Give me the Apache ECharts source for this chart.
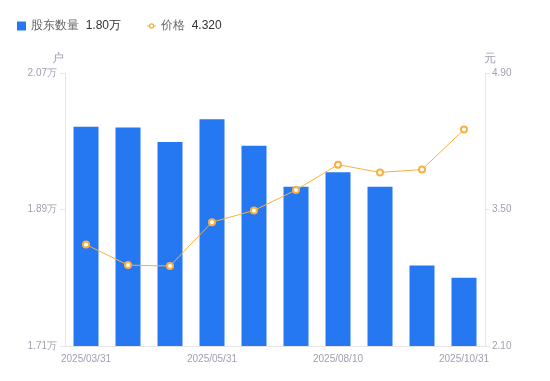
<!DOCTYPE html>
<html><head><meta charset="utf-8">
<script src="https://cdn.jsdelivr.net/npm/echarts@6/dist/echarts.min.js"></script>
<style>html,body{margin:0;padding:0;background:#fff}#c{width:550px;height:381px}</style>
</head><body><div id="c"></div>
<script>
const categories = ['2025/03/31','2025/04/10','2025/04/30','2025/05/31','2025/06/30','2025/07/31','2025/08/10','2025/08/31','2025/09/30','2025/10/31'];
const holders = [1.999, 1.998, 1.979, 2.009, 1.974, 1.920, 1.939, 1.920, 1.816, 1.800];
const prices = [3.14, 2.93, 2.92, 3.37, 3.49, 3.70, 3.96, 3.88, 3.91, 4.32];
const leftTicks = [1.71, 1.89, 2.07];
const rightTicks = [2.10, 3.50, 4.90];
const seriesNames = ['股东数量', '价格'];
const legendValues = ['1.80万', '4.320'];

const labelColor = '#a0a0b0';
const lineColor = '#e6e6e6';
const orange = '#f8b13e';
const ringIcon = 'path://M0,4.4H2.2V5.6H0Z M8.8,4.4H11V5.6H8.8Z M2.2,5A3.3,3.3 0 1,1 8.8,5A3.3,3.3 0 1,1 2.2,5Z M3.8,5A1.7,1.7 0 1,0 7.2,5A1.7,1.7 0 1,0 3.8,5Z';
const chart = echarts.init(document.getElementById('c'));
chart.setOption({
  animation: false,
  legend: {
    left: 12, top: 15,
    itemWidth: 9, itemHeight: 9, itemGap: 26,
    formatter: function (name) {
      const i = seriesNames.indexOf(name);
      return '{n|' + name + '}  {v|' + legendValues[i] + '}';
    },
    textStyle: {
      rich: { n: { color: '#666', fontSize: 12 }, v: { color: '#333', fontSize: 12 } }
    },
    data: [{ name: seriesNames[0], icon: 'rect' },
           { name: seriesNames[1], icon: ringIcon, itemStyle: { color: orange, borderWidth: 0 } }]
  },
  grid: { left: 65, right: 65, top: 73, bottom: 35 },
  xAxis: {
    type: 'category', data: categories,
    axisLine: { lineStyle: { color: lineColor } },
    axisTick: { show: false },
    axisLabel: { color: labelColor, fontSize: 10, interval: 2, margin: 8 }
  },
  yAxis: [{
    type: 'value', min: 1.71, max: 2.07, name: '户',
    nameTextStyle: { color: labelColor, fontSize: 12, padding: [0, 14, 0, 0] },
    nameGap: 8,
    axisLine: { show: true, lineStyle: { color: lineColor } },
    axisTick: { show: true, length: 5, lineStyle: { color: lineColor }, customValues: leftTicks },
    splitLine: { show: false },
    axisLabel: { color: labelColor, fontSize: 10, margin: 8, customValues: leftTicks,
      formatter: v => v.toFixed(2) + '万' }
  }, {
    type: 'value', min: 2.10, max: 4.90, name: '元',
    nameTextStyle: { color: labelColor, fontSize: 12, padding: [0, 0, 0, 10] },
    nameGap: 8,
    axisLine: { show: true, lineStyle: { color: lineColor } },
    axisTick: { show: true, length: 5, lineStyle: { color: lineColor }, customValues: rightTicks },
    splitLine: { show: false },
    axisLabel: { color: labelColor, fontSize: 10, margin: 7, customValues: rightTicks,
      formatter: v => v.toFixed(2) }
  }],
  series: [{
    name: seriesNames[0], type: 'bar', data: holders, barWidth: 25,
    itemStyle: { color: '#2577f2' }
  }, {
    name: seriesNames[1], type: 'line', yAxisIndex: 1, data: prices,
    symbol: 'emptyCircle', symbolSize: 6,
    lineStyle: { color: orange, width: 1 },
    itemStyle: { color: orange, borderWidth: 2 }
  }]
});
</script></body></html>
